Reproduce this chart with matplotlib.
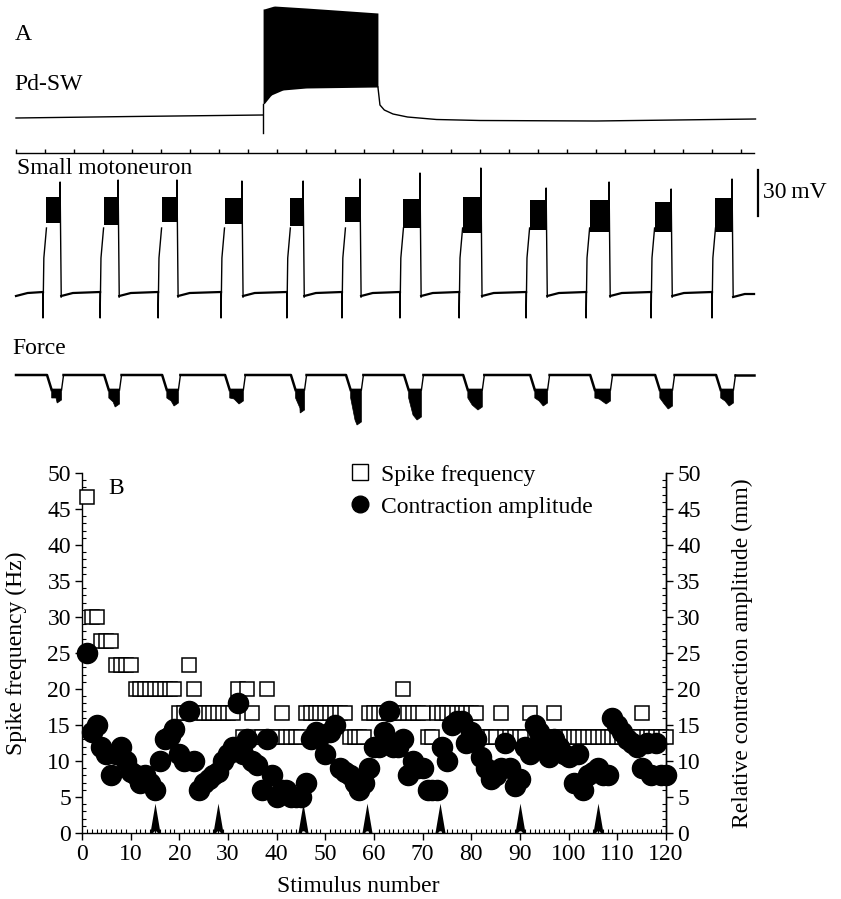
import numpy as np
import matplotlib
matplotlib.use("Agg")
import matplotlib.pyplot as plt
from matplotlib.path import Path
from matplotlib.lines import Line2D
from matplotlib.ticker import MultipleLocator

W, H = 841, 899
INK = "black"

plt.rcParams.update({
    "font.family": "Liberation Serif",
    "font.size": 17,
    "axes.linewidth": 1.0,
})

# ---------------------------------------------------------------- panel B data
stimulus = np.arange(1, 121)

spike_hz = [
    46.7, 30, 30, 26.7, 26.7, 26.7, 23.3, 23.3, 23.3, 23.3,
    20, 20, 20, 20, 20, 20, 20, 20, 20, 16.7,
    16.7, 23.3, 20, 16.7, 16.7, 16.7, 16.7, 16.7, 16.7, 16.7,
    16.7, 20, 13.3, 20, 16.7, 13.3, 13.3, 20, 13.3, 13.3,
    16.7, 13.3, 13.3, 13.3, 13.3, 16.7, 16.7, 16.7, 16.7, 16.7,
    16.7, 16.7, 16.7, 16.7, 13.3, 13.3, 13.3, 13.3, 16.7, 16.7,
    16.7, 16.7, 16.7, 16.7, 16.7, 20, 16.7, 16.7, 16.7, 16.7,
    13.3, 13.3, 16.7, 16.7, 16.7, 16.7, 16.7, 16.7, 16.7, 16.7,
    16.7, 13.3, 13.3, 13.3, 13.3, 16.7, 13.3, 13.3, 13.3, 13.3,
    13.3, 16.7, 13.3, 13.3, 13.3, 13.3, 16.7, 13.3, 13.3, 13.3,
    13.3, 13.3, 13.3, 13.3, 13.3, 13.3, 13.3, 13.3, 13.3, 13.3,
    13.3, 13.3, 13.3, 13.3, 16.7, 13.3, 13.3, 13.3, 13.3, 13.3,
]

contraction_mm = [
    25, 14, 15, 12, 11, 8, 11, 12, 10, 8.5,
    8, 7, 8, 7, 6, 10, 13, 13.5, 14.5, 11,
    10, 17, 10, 6, 7, 7.5, 8, 8.5, 10, 11,
    12, 18, 11, 13, 10, 9.5, 6, 13, 8, 5,
    6, 6, 5, 5, 5, 7, 13, 14, 13.5, 11,
    14, 15, 9, 8.5, 8, 7, 6, 7, 9, 12,
    12, 14, 17, 12, 12, 13, 8, 10, 9, 9,
    6, 6, 6, 12, 10, 15, 15.5, 15.5, 12.5, 14,
    13, 10.5, 9, 7.5, 8, 9, 12.5, 9, 6.5, 7.5,
    12, 11, 15, 14, 12.5, 10.5, 13, 12, 11, 10.5,
    7, 11, 6, 8, 8.5, 9, 8, 8, 16, 15,
    14, 13, 12.5, 12, 9, 12.5, 8, 12.5, 8, 8,
]

# stimuli marked with an arrowhead under the points
arrow_stim = [15, 28, 45.5, 58.5, 73.5, 90, 106]

# ---------------------------------------------------------------- panel A data
# time in s (one marker tick per second); levels in reference rows, down = larger
mn_on = [0.93, 2.90, 4.90, 7.07, 9.34, 11.24, 13.24, 15.28, 17.59, 19.66, 21.90, 24.00]
mn_off = [1.52, 3.52, 5.55, 7.79, 9.90, 11.86, 13.93, 16.03, 18.28, 20.45, 22.59, 24.69]
mn_top = [197, 197, 197, 198, 198, 197, 199, 197, 200, 200, 202, 198]
mn_bot = [223, 225, 222, 224, 226, 222, 228, 233, 230, 232, 232, 232]
mn_peak = [182, 180, 180, 181, 181, 179, 173, 168, 188, 182, 189, 179]
force_depth = [403, 407, 406, 404, 413, 425, 420, 410, 406, 404, 409, 406]

pd_on, pd_off = 8.52, 12.48
pd_pre_t = [0.0, 4.0, 8.52]
pd_pre_y = [118, 116.5, 115]
pd_top_t = [8.55, 8.9, 10.0, 11.0, 12.48]
pd_top_y = [9, 6, 8, 10, 13]
pd_bot_t = [8.55, 8.8, 9.2, 10.0, 12.48]
pd_bot_y = [104, 95, 90, 88, 87]
pd_post_t = [12.48, 12.55, 12.7, 13.0, 13.5, 14.5, 16.0, 20.0, 25.5]
pd_post_y = [87, 105, 110, 114, 117, 119.5, 120.5, 121, 119]

fig = plt.figure(figsize=(W / 100, H / 100), dpi=100)

# ------------------------------------------------------------------ panel A
ax_a = fig.add_axes([0, 1 - 440 / H, 1, 440 / H])
ax_a.set_xlim(-16 / 29, (W - 16) / 29)
ax_a.set_ylim(440, 0)
ax_a.axis("off")

# Pd-SW
ax_a.plot(pd_pre_t, pd_pre_y, color=INK, lw=1.0)
ax_a.plot([pd_on, pd_on], [133, 104], color=INK, lw=1.0)
tt = np.linspace(pd_on, pd_off, 80)
ax_a.fill_between(tt, np.interp(tt, pd_top_t, pd_top_y),
                  np.interp(tt, pd_bot_t, pd_bot_y), color=INK, lw=0)
ax_a.plot(pd_post_t, pd_post_y, color=INK, lw=1.0)

# one-second marker line
secs = np.arange(0, 26)
ax_a.plot([0, 25.45], [153, 153], color=INK, lw=1.0)
ax_a.vlines(secs, 149, 153, color=INK, lw=1.0)

# small motoneuron
prev = 0.0
for on, off, top, bot, peak in zip(mn_on, mn_off, mn_top, mn_bot, mn_peak):
    ax_a.plot([prev, prev + 0.4, on], [296, 293, 292], color=INK, lw=1.6)
    ax_a.plot([on, on, on + 0.03, on + 0.12], [292, 318, 258, 228],
              color=INK, lw=1.0)
    ax_a.fill_between([on + 0.12, off], [top, top], [bot, bot], color=INK, lw=0)
    ax_a.plot([off, off, off + 0.04], [bot - 5, peak, 297], color=INK, lw=1.0)
    prev = off + 0.04
ax_a.plot([prev, prev + 0.4, 25.45], [297, 294, 294], color=INK, lw=1.6)

# force: sloped fall, ragged black trough, quick return
prev = 0.0
for on, off, depth in zip(mn_on, mn_off, force_depth):
    ax_a.plot([prev, on + 0.14, on + 0.3], [375, 375, 390], color=INK, lw=1.8)
    ax_a.fill([on + 0.3, off + 0.05, off + 0.05, off - 0.1, on + 0.45, on + 0.3],
              [389, 389, depth - 3, depth, depth - 5, 398], color=INK, lw=0.5)
    ax_a.plot([off + 0.05, off + 0.12], [390, 375], color=INK, lw=1.0)
    prev = off + 0.12
ax_a.plot([prev, 25.45], [375, 375], color=INK, lw=1.8)

# 30 mV scale bar
ax_a.plot([25.59, 25.59], [170, 216], color=INK, lw=1.6)
ax_a.text(25.76, 193, "30\u2009mV", ha="left", va="center")

ax_a.text(-0.05, 34, "A", ha="left", va="center")
ax_a.text(-0.07, 84, "Pd-SW", ha="left", va="center")
ax_a.text(0.03, 169, "Small motoneuron", ha="left", va="center")
ax_a.text(-0.14, 348, "Force", ha="left", va="center")

# ------------------------------------------------------------------ panel B
ax = fig.add_axes([82 / W, 1 - 833 / H, 584 / W, 360 / H])
ax.set_xlim(0, 120)
ax.set_ylim(0, 50)
ax.spines["top"].set_visible(False)
ax.spines["right"].set_visible(True)

ax.plot(stimulus, spike_hz, "s", ms=10.5, mfc="white", mec=INK, mew=1.1,
        ls="none", zorder=3, clip_on=False)
ax.plot(stimulus, contraction_mm, "o", ms=14.5, color=INK, ls="none",
        zorder=4, clip_on=False)

# notched arrowhead: base on y = 0, apex up
ang = np.linspace(np.pi, 0, 12)
verts = ([(-0.17, 0.0), (-0.075, 0.0)] +
         list(zip(0.075 * np.cos(ang), 0.075 * np.sin(ang))) +
         [(0.17, 0.0), (0.0, 1.0), (-0.17, 0.0)])
arrow = Path(verts, [Path.MOVETO] + [Path.LINETO] * (len(verts) - 2) + [Path.CLOSEPOLY])
ax.plot(arrow_stim, [0] * len(arrow_stim), ls="none", marker=arrow, ms=43,
        color=INK, mew=0, zorder=5)

ax.xaxis.set_major_locator(MultipleLocator(10))
ax.xaxis.set_minor_locator(MultipleLocator(1))
ax.yaxis.set_major_locator(MultipleLocator(5))
ax.yaxis.set_minor_locator(MultipleLocator(1))
ax.tick_params(which="major", direction="out", length=5, width=1.0, pad=3)
ax.tick_params(which="minor", direction="in", length=3, width=0.8)

ax2 = ax.twinx()
ax2.set_ylim(0, 50)
for s in ("top", "left", "bottom"):
    ax2.spines[s].set_visible(False)
ax2.yaxis.set_major_locator(MultipleLocator(5))
ax2.yaxis.set_minor_locator(MultipleLocator(1))
ax2.tick_params(which="major", direction="out", length=5, width=1.0, pad=3)
ax2.tick_params(which="minor", direction="in", length=3, width=0.8)

ax.set_xlabel("Stimulus number")
ax.set_ylabel("Spike frequency (Hz)")
ax2.set_ylabel("Relative contraction amplitude (mm)")
ax.xaxis.set_label_coords(0.473, -0.119)
ax.yaxis.set_label_coords(-0.094, 0.5)
ax2.yaxis.set_label_coords(1.112, 0.5)

ax.text(0.0445, 0.958, "B", transform=ax.transAxes, ha="left", va="center")

handles = [
    Line2D([], [], marker="s", ms=11, mfc="white", mec=INK, mew=1.0, ls="none"),
    Line2D([], [], marker="o", ms=12, color=INK, ls="none"),
]
ax.legend(handles, ["Spike frequency", "Contraction amplitude"],
          loc="upper left", bbox_to_anchor=(348 / W, 1 - 464 / H),
          bbox_transform=fig.transFigure, frameon=False, borderpad=0,
          handletextpad=0.4, labelspacing=0.45, handlelength=1.0,
          borderaxespad=0)

fig.savefig("out.png", dpi=100)
